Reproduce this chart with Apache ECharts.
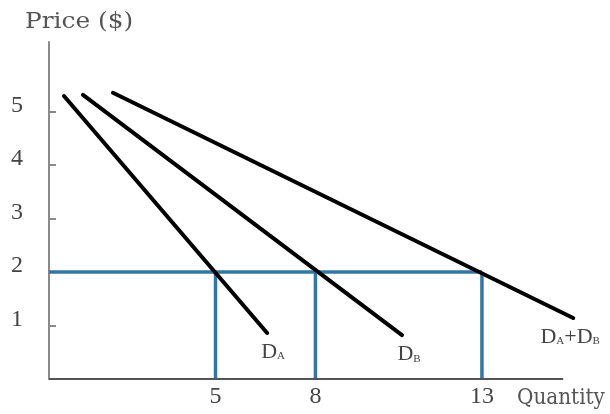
<!DOCTYPE html>
<html>
<head>
<meta charset="utf-8">
<script src="https://cdn.jsdelivr.net/npm/echarts@6/dist/echarts.min.js"></script>
<style>
  html, body { margin: 0; padding: 0; background: #fff; }
  #chart { width: 610px; height: 414px; }
</style>
</head>
<body>
<div id="chart"></div>
<script>
// Demand curves: each is a straight line from [quantity, price] to [quantity, price]
const demandA = [[0.45, 5.29], [6.55, 0.86]];
const demandB = [[1.02, 5.31], [10.6, 0.82]];
const demandSum = [[1.92, 5.35], [15.74, 1.14]];

// Market price and the quantity demanded on each curve at that price
const marketPrice = 2;
const quantitiesAtPrice = [5, 8, 13];

// Axis tick labels and the drawn length of the quantity axis
const priceTicks = [1, 2, 3, 4, 5];
const quantityTicks = [5, 8, 13];
const quantityAxisEnd = 15.44;

const serifFont = '"Liberation Serif", "DejaVu Serif", serif';
const nameFont = '"DejaVu Serif", "Liberation Serif", serif';

function demandLabel(text, offset) {
  return {
    show: true,
    position: 'bottom',
    distance: 8,
    offset: offset,
    formatter: text,
    rich: {
      d: { fontFamily: serifFont, fontSize: 22, color: '#444', verticalAlign: 'bottom' },
      s: { fontFamily: serifFont, fontSize: 11, color: '#444', verticalAlign: 'bottom', padding: [0, 0, 1, 0] }
    }
  };
}

function curveSeries(points, labelText, offset) {
  return {
    type: 'line',
    data: points.map((p, i) => i === points.length - 1
      ? { value: p, label: demandLabel(labelText, offset) }
      : { value: p }),
    symbol: 'circle',
    symbolSize: 0,
    showSymbol: true,
    clip: false,
    lineStyle: { color: '#000', width: 4, cap: 'round' },
    itemStyle: { color: '#000' },
    silent: true,
    z: 3
  };
}

// Blue guide segments: horizontal price line and vertical drops to each quantity
const maxQ = Math.max(...quantitiesAtPrice);
const guideSegments = [[[0, marketPrice], [maxQ, marketPrice]]]
  .concat(quantitiesAtPrice.map(q => [[q, 0], [q, marketPrice]]));

const guideSeries = guideSegments.map(seg => ({
  type: 'line',
  data: seg,
  symbol: 'none',
  lineStyle: { color: '#2f78a6', width: 3.5 },
  silent: true,
  z: 2
}));

// Quantity axis line, drawn shorter than the plotting area so the summed curve can run past it
const quantityAxisLine = {
  type: 'line',
  data: [[0, 0], [quantityAxisEnd, 0]],
  symbol: 'none',
  lineStyle: { color: '#555', width: 2 },
  silent: true,
  z: 4
};

const chart = echarts.init(document.getElementById('chart'), null, { renderer: 'canvas' });
chart.setOption({
  animation: false,
  backgroundColor: '#fff',
  grid: { left: 49, top: 42, right: 11.5, bottom: 35 },
  xAxis: {
    type: 'value',
    min: 0,
    max: 16.5,
    splitLine: { show: false },
    axisLine: { show: false },
    axisTick: { show: false },
    axisLabel: {
      customValues: quantityTicks,
      margin: 6,
      fontFamily: serifFont,
      fontSize: 24,
      color: '#444'
    }
  },
  yAxis: {
    type: 'value',
    min: 0,
    max: 6.3,
    interval: 1,
    splitLine: { show: false },
    axisLine: { show: true, lineStyle: { color: '#8a8a8a', width: 2 } },
    axisTick: {
      show: true,
      inside: true,
      length: 7,
      customValues: priceTicks,
      lineStyle: { color: '#8a8a8a', width: 2 }
    },
    axisLabel: {
      customValues: priceTicks,
      margin: 26,
      align: 'right',
      verticalAlign: 'bottom',
      lineHeight: 12,
      fontFamily: serifFont,
      fontSize: 24,
      color: '#444'
    }
  },
  graphic: [
    {
      type: 'text', x: 25, y: 22, scaleX: 1.08,
      style: { text: 'Price ($)', font: '23px ' + nameFont, fill: '#555', verticalAlign: 'middle' }
    },
    {
      type: 'text', x: 517, y: 398, scaleX: 0.87,
      style: { text: 'Quantity', font: '23px ' + nameFont, fill: '#555', verticalAlign: 'middle' }
    }
  ],
  series: guideSeries.concat([
    quantityAxisLine,
    curveSeries(demandA, '{d|D}{s|A}', [6, 0]),
    curveSeries(demandB, '{d|D}{s|B}', [7, 0]),
    curveSeries(demandSum, '{d|D}{s|A}{d|+D}{s|B}', [-3, 0])
  ])
});
</script>
</body>
</html>
